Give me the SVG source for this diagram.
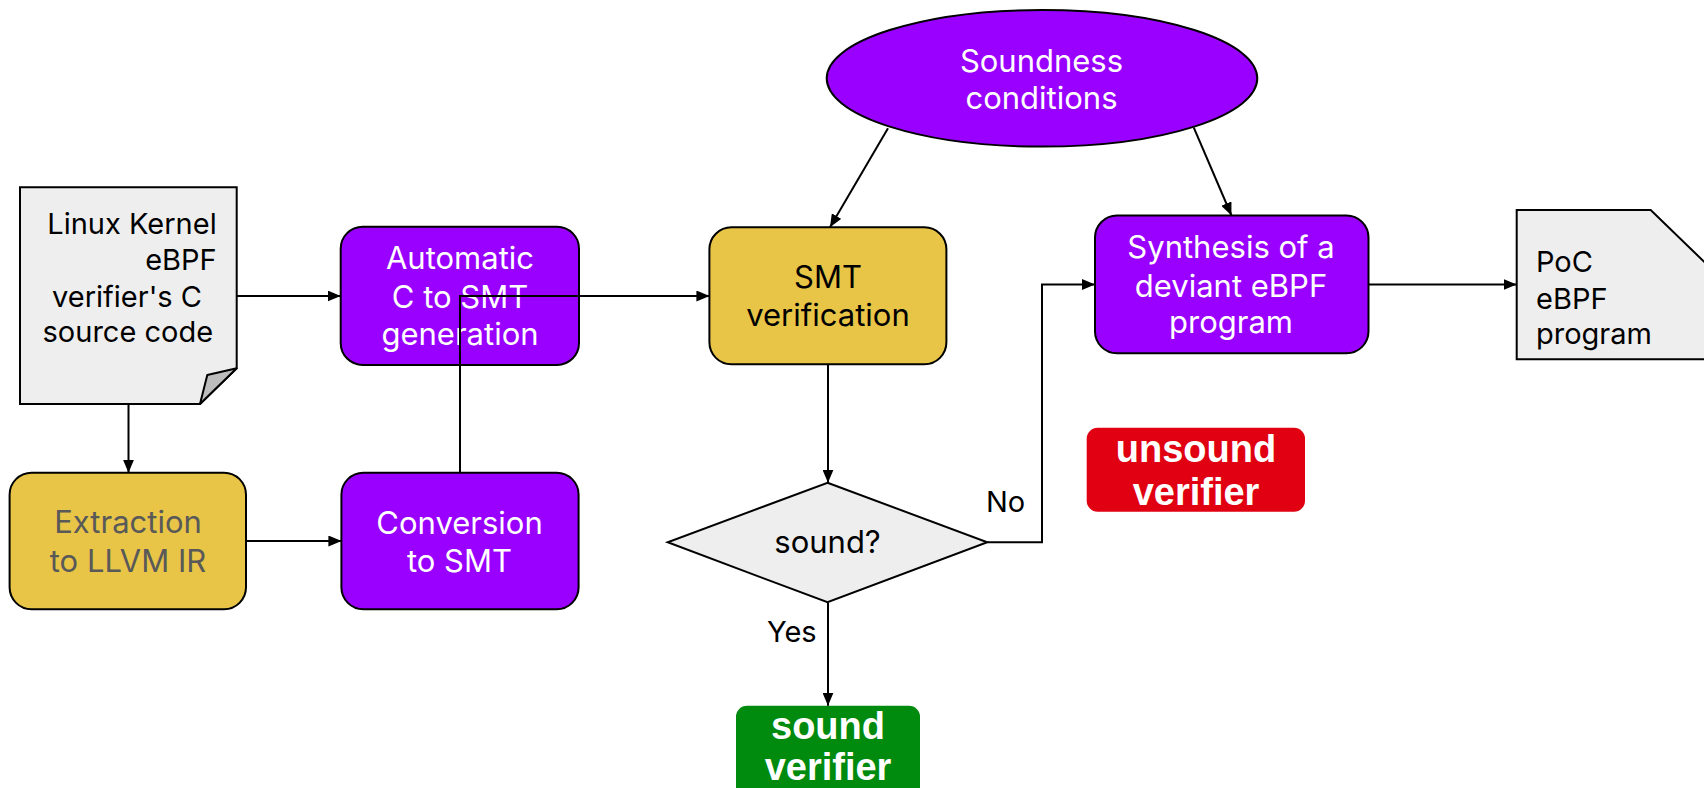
<svg xmlns="http://www.w3.org/2000/svg" width="1704" height="788" viewBox="0 0 1704 788">
  <style>
    .t { font-family: Inter, "Noto Sans", "Liberation Sans", sans-serif; font-size: 31px; }
    .s { font-size: 29px; }
    .w { fill: #ffffff; }
    .k { fill: #000000; }
    .g { fill: #595959; }
    .mid { text-anchor: middle; }
    .end { text-anchor: end; }
    .b { font-family: "Liberation Sans", Arial, sans-serif; font-size: 38px; font-weight: bold; fill: #ffffff; text-anchor: middle; }
    .purple { fill: #9900ff; stroke: #000; stroke-width: 2; }
    .yellow { fill: #e8c547; stroke: #000; stroke-width: 2; }
    .paper { fill: #eeeeee; stroke: #000; stroke-width: 2; }
    .conn { fill: none; stroke: #000; stroke-width: 2; marker-end: url(#arrow); }
  </style>
  <defs>
    <marker id="arrow" markerUnits="userSpaceOnUse" markerWidth="13" markerHeight="11" refX="13" refY="5.5" orient="auto">
      <path d="M0,0 L13,5.5 L0,11 Z" fill="#000"/>
    </marker>
  </defs>

  <rect width="1704" height="788" fill="#ffffff"/>

  <!-- source document -->
  <g id="source-doc">
    <path class="paper" d="M20,187.3 H236.7 V368.3 L200,404 H20 Z"/>
    <path d="M236.7,368.3 L207.3,375 L200,404 Z" fill="#bdbdbd" stroke="#000" stroke-width="2" stroke-linejoin="round"/>
    <text class="t s k end" x="216.7" y="234">Linux Kernel</text>
    <text class="t s k end" x="216.7" y="270">eBPF</text>
    <text class="t s k mid" x="127" y="306.7">verifier's C</text>
    <text class="t s k mid" x="127.8" y="341.7">source code</text>
  </g>

  <!-- extraction -->
  <g id="extraction">
    <rect class="yellow" x="9.6" y="472.7" width="236.4" height="136.6" rx="22"/>
    <text class="t g mid" x="128" y="533.3">Extraction</text>
    <text class="t g mid" x="128" y="571.7">to LLVM IR</text>
  </g>

  <!-- automatic generation -->
  <g id="auto-gen">
    <rect class="purple" x="340.7" y="226.7" width="238.3" height="138.3" rx="22"/>
    <text class="t w mid" x="460" y="269.3">Automatic</text>
    <text class="t w mid" x="460" y="307.7">C to SMT</text>
    <text class="t w mid" x="460" y="345">generation</text>
  </g>

  <!-- conversion -->
  <g id="conversion">
    <rect class="purple" x="341.4" y="472.7" width="237.2" height="136.6" rx="22"/>
    <text class="t w mid" x="459.5" y="534.3">Conversion</text>
    <text class="t w mid" x="459.5" y="572.3">to SMT</text>
  </g>

  <!-- SMT verification -->
  <g id="smt-verification">
    <rect class="yellow" x="709.4" y="227.3" width="237" height="137" rx="22"/>
    <text class="t k mid" x="828" y="288.3">SMT</text>
    <text class="t k mid" x="828" y="326">verification</text>
  </g>

  <!-- soundness conditions -->
  <g id="soundness-conditions">
    <ellipse class="purple" cx="1042" cy="78.3" rx="215.3" ry="68.3"/>
    <text class="t w mid" x="1041.5" y="71.7">Soundness</text>
    <text class="t w mid" x="1041.5" y="109.3">conditions</text>
  </g>

  <!-- synthesis -->
  <g id="synthesis">
    <rect class="purple" x="1095" y="215.5" width="273.5" height="137.8" rx="22"/>
    <text class="t w mid" x="1231" y="258.3">Synthesis of a</text>
    <text class="t w mid" x="1231" y="296.7">deviant eBPF</text>
    <text class="t w mid" x="1231" y="333.3">program</text>
  </g>

  <!-- PoC document -->
  <g id="poc-doc">
    <path class="paper" d="M1516.7,210 H1650.7 L1725,282 V359.3 H1516.7 Z"/>
    <text class="t s k" x="1536" y="271.7">PoC</text>
    <text class="t s k" x="1536" y="309">eBPF</text>
    <text class="t s k" x="1536" y="344">program</text>
  </g>

  <!-- decision -->
  <g id="decision">
    <path class="paper" d="M827.5,482.7 L987.3,542.3 L827.5,602.3 L667.7,542.3 Z"/>
    <text class="t k mid" x="827.5" y="553.3">sound?</text>
  </g>

  <!-- outcomes -->
  <g id="unsound">
    <rect x="1086.7" y="427.7" width="218.3" height="84" rx="11" fill="#e00012"/>
    <text class="b" x="1196" y="461.7">unsound</text>
    <text class="b" x="1196" y="505">verifier</text>
  </g>
  <g id="sound">
    <rect x="736" y="705.7" width="184" height="110" rx="11" fill="#008a0e"/>
    <text class="b" x="828" y="739.3">sound</text>
    <text class="b" x="828" y="780">verifier</text>
  </g>

  <!-- connectors -->
  <g id="connectors">
    <path class="conn" d="M236.7,296 H340.7"/>
    <path class="conn" d="M128.5,404 V472.7"/>
    <path class="conn" d="M246,541 H341.4"/>
    <path class="conn" d="M460,472.7 V296 H709.4"/>
    <path class="conn" d="M888,128.3 L830,227.3"/>
    <path class="conn" d="M1193.8,127.7 L1231.5,215.5"/>
    <path class="conn" d="M828,364.3 V482.7"/>
    <path class="conn" d="M987.3,542.3 H1042 V284.5 H1095"/>
    <path class="conn" d="M1368.5,284.5 H1516.7"/>
    <path class="conn" d="M828,602.3 V705.7"/>
    <text class="t s k" x="986" y="512.3">No</text>
    <text class="t s k" x="767" y="641.7">Yes</text>
  </g>
</svg>
